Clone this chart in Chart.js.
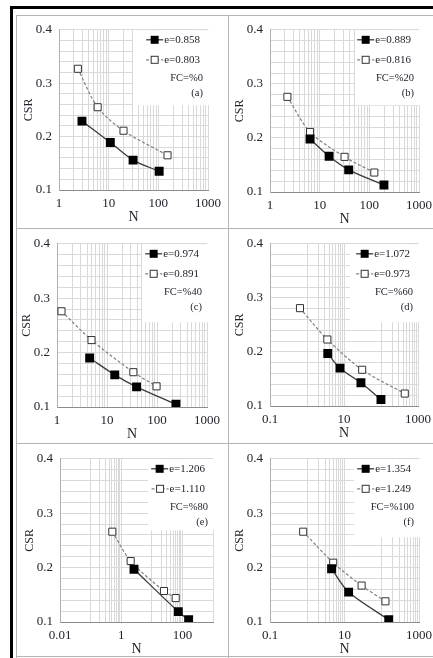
<!DOCTYPE html>
<html>
<head>
<meta charset="UTF-8">
<title>CSR - N</title>
<style>
body { margin: 0; background: #fff; }
#page { position: relative; width: 433px; height: 658px; overflow: hidden; background: #fff; }
.rule { position: absolute; }
#page canvas { position: absolute; }
</style>
</head>
<body>
<div id="page">
	<!-- frame -->
	<div class="rule" style="left:10px;top:6px;width:423px;height:3px;background:#000"></div>
	<div class="rule" style="left:10px;top:6px;width:3px;height:652px;background:#000"></div>
	<div class="rule" style="left:16px;top:15px;width:1px;height:643px;background:#b4b4b4"></div>
	<div class="rule" style="left:228px;top:15px;width:1px;height:643px;background:#b4b4b4"></div>
	<div class="rule" style="left:16px;top:15px;width:417px;height:1px;background:#b4b4b4"></div>
	<div class="rule" style="left:16px;top:228px;width:417px;height:1px;background:#b4b4b4"></div>
	<div class="rule" style="left:16px;top:443px;width:417px;height:1px;background:#b4b4b4"></div>
	<div class="rule" style="left:16px;top:656px;width:417px;height:1px;background:#b4b4b4"></div>
</div>
<script src="https://cdn.jsdelivr.net/npm/chart.js"></script>
<script type="text/javascript">
// ---- data ----
// (a) FC=%0
const nA1 = [2.9, 10.8, 31, 104];
const csrA1 = [0.229, 0.189, 0.156, 0.135];
const nA2 = [2.4, 6.0, 19.9, 153];
const csrA2 = [0.327, 0.255, 0.211, 0.165];
// (b) FC=%20
const nB1 = [6.4, 15.5, 38.4, 197];
const csrB1 = [0.198, 0.166, 0.141, 0.113];
const nB2 = [2.24, 6.4, 31.7, 126];
const csrB2 = [0.276, 0.211, 0.165, 0.136];
// (c) FC=%40
const nC1 = [4.5, 14.3, 39, 239];
const csrC1 = [0.190, 0.159, 0.137, 0.105];
const nC2 = [1.23, 4.9, 33.7, 98];
const csrC2 = [0.276, 0.223, 0.164, 0.138];
// (d) FC=%60
const nD1 = [3.64, 7.8, 28.7, 99.8];
const csrD1 = [0.197, 0.170, 0.143, 0.112];
const nD2 = [0.646, 3.55, 31, 439];
const csrD2 = [0.281, 0.223, 0.167, 0.123];
// (e) FC=%80
const nE1 = [2.62, 73.5, 160];
const csrE1 = [0.197, 0.119, 0.104];
const nE2 = [0.512, 2.04, 25, 60.3];
const csrE2 = [0.266, 0.212, 0.157, 0.144];
// (f) FC=%100
const nF1 = [4.5, 12.9, 154];
const csrF1 = [0.198, 0.155, 0.104];
const nF2 = [0.778, 4.97, 28.8, 125.6];
const csrF2 = [0.266, 0.209, 0.167, 0.138];

const seriesA = ['e=0.858', 'e=0.803'];
const seriesB = ['e=0.889', 'e=0.816'];
const seriesC = ['e=0.974', 'e=0.891'];
const seriesD = ['e=1.072', 'e=0.973'];
const seriesE = ['e=1.206', 'e=1.110'];
const seriesF = ['e=1.354', 'e=1.249'];
const fcLabels = ['FC=%0', 'FC=%20', 'FC=%40', 'FC=%60', 'FC=%80', 'FC=%100'];
const panelTags = ['(a)', '(b)', '(c)', '(d)', '(e)', '(f)'];

// labelled ticks on the N axis
const xTicksDec = [1, 10, 100, 1000];
const xLabelsDec = ['1', '10', '100', '1000'];
const xTicksWide = [0.1, 10, 1000];
const xLabelsWide = ['0.1', '10', '1000'];
const xTicksE = [0.01, 1, 100];
const xLabelsE = ['0.01', '1', '100'];
// CSR axis: labelled ticks, minor gridline step
const yTicks = [0.1, 0.2, 0.3, 0.4];
const yLabels = ['0.1', '0.2', '0.3', '0.4'];
const yMinor = 0.02;

// ---- layout ----
// area = plot box on the page [left, top, right, bottom], box = legend backdrop [w, h]
const panels = [
	{area: [59, 25, 213, 190], box: [75, 75], n: [nA1, nA2], csr: [csrA1, csrA2], names: seriesA, xt: xTicksDec, xl: xLabelsDec, step: 10, min: 1, max: 1000},
	{area: [270, 25, 424, 192], box: [64, 75], n: [nB1, nB2], csr: [csrB1, csrB2], names: seriesB, xt: xTicksDec, xl: xLabelsDec, step: 10, min: 1, max: 1000},
	{area: [57, 239, 212, 407], box: [65, 78], n: [nC1, nC2], csr: [csrC1, csrC2], names: seriesC, xt: xTicksDec, xl: xLabelsDec, step: 10, min: 1, max: 1000},
	{area: [270, 239, 423, 406], box: [68, 78], n: [nD1, nD2], csr: [csrD1, csrD2], names: seriesD, xt: xTicksWide, xl: xLabelsWide, step: 100, min: 0.1, max: 1000},
	{area: [60, 454, 213, 622], box: [65, 71], n: [nE1, nE2], csr: [csrE1, csrE2], names: seriesE, xt: xTicksE, xl: xLabelsE, step: 100, min: 0.01, max: 1000},
	{area: [270, 454, 424, 622], box: [65, 78], n: [nF1, nF2], csr: [csrF1, csrF2], names: seriesF, xt: xTicksWide, xl: xLabelsWide, step: 100, min: 0.1, max: 1000}
];

const SERIF = '"Liberation Serif", "Times New Roman", serif';
const TEXT = '#23232e';
const GRID = '#d9d9d9';
const Y_W = 46, X_H = 36, PAD_T = 10, PAD_R = 14;

// gridline positions for a log axis: majors plus the minor lines between them
function logGrid(majors, step, max) {
	let vals = [];
	majors.forEach(function(m) {
		vals.push(m);
		if (step === 10) {
			for (let k = 2; k <= 9; k++) vals.push(+(m * k).toPrecision(6));
		} else {
			for (let k = 1; k <= 9; k++) vals.push(+(m * 10 * k).toPrecision(6));
		}
	});
	return vals.filter(v => v <= max * 1.000001);
}

// gridline positions for the CSR axis
function linGrid(lo, hi, step) {
	let vals = [];
	const n = Math.round((hi - lo) / step);
	for (let k = 0; k <= n; k++) vals.push(+(lo + k * step).toFixed(4));
	return vals;
}
const yGrid = linGrid(yTicks[0], yTicks[yTicks.length - 1], yMinor);

// white legend backdrop, legend entries, FC label and panel tag
const legendBox = {
	id: 'legendBox',
	beforeDatasetsDraw(chart, args, opts) {
		const ctx = chart.ctx, a = chart.chartArea;
		ctx.save();
		ctx.fillStyle = '#fff';
		ctx.fillRect(a.right - opts.w, a.top + 0.5, opts.w + 1, opts.h);
		ctx.restore();
	},
	afterDatasetsDraw(chart, args, opts) {
		const ctx = chart.ctx, a = chart.chartArea;
		ctx.save();
		ctx.textBaseline = 'middle';
		ctx.font = '11px ' + SERIF;
		chart.data.datasets.forEach(function(ds, i) {
			const y = a.top + 10 + i * 20;
			const tw = ctx.measureText(ds.label).width;
			const tx = a.right - 8 - tw;
			ctx.fillStyle = TEXT;
			ctx.textAlign = 'left';
			ctx.fillText(ds.label, tx, y);
			ctx.strokeStyle = ds.borderColor;
			ctx.lineWidth = ds.borderWidth;
			ctx.setLineDash(ds.borderDash || []);
			ctx.beginPath();
			ctx.moveTo(tx - 18, y);
			ctx.lineTo(tx - 1, y);
			ctx.stroke();
			ctx.setLineDash([]);
			const s = i === 0 ? 8 : 7;
			const cx = tx - 9.5;
			ctx.fillStyle = ds.pointBackgroundColor;
			ctx.fillRect(cx - s / 2, y - s / 2, s, s);
			if (i === 1) {
				ctx.strokeStyle = ds.pointBorderColor;
				ctx.lineWidth = 1;
				ctx.strokeRect(cx - s / 2, y - s / 2, s, s);
			}
		});
		ctx.textAlign = 'right';
		ctx.fillStyle = TEXT;
		ctx.font = '10.5px ' + SERIF;
		ctx.fillText(opts.fc, a.right - 5, a.top + 48);
		ctx.fillText(opts.tag, a.right - 5, a.top + 63);
		ctx.restore();
	}
};

const page = document.getElementById('page');

panels.forEach(function(p, idx) {
	const [l, t, r, b] = p.area;
	const cv = document.createElement('canvas');
	const w = r - l + Y_W + PAD_R;
	const h = b - t + PAD_T + X_H;
	cv.width = w;
	cv.height = h;
	cv.style.left = (l - Y_W) + 'px';
	cv.style.top = (t - PAD_T) + 'px';
	page.appendChild(cv);

	const grid = logGrid(p.xt, p.step, p.max);
	const pts = k => p.n[k].map((v, i) => ({x: v, y: p.csr[k][i]}));

	new Chart(cv, {
		type: 'line',
		data: {
			datasets: [{
				label: p.names[0],
				data: pts(0),
				borderColor: '#3c3c3c',
				borderWidth: 1.3,
				tension: 0.3,
				pointStyle: 'rect',
				pointRadius: 6.3,
				pointBackgroundColor: '#000',
				pointBorderColor: '#000',
				pointBorderWidth: 0
			}, {
				label: p.names[1],
				data: pts(1),
				borderColor: '#808080',
				borderWidth: 1.2,
				borderDash: [3, 2],
				tension: 0.3,
				pointStyle: 'rect',
				pointRadius: 5,
				pointBackgroundColor: '#fff',
				pointBorderColor: '#333',
				pointBorderWidth: 1
			}]
		},
		options: {
			responsive: false,
			animation: false,
			devicePixelRatio: 1,
			layout: {autoPadding: false, padding: {left: 0, top: PAD_T, right: PAD_R, bottom: 0}},
			plugins: {
				legend: {display: false},
				tooltip: {enabled: false},
				legendBox: {w: p.box[0], h: p.box[1], fc: fcLabels[idx], tag: panelTags[idx]}
			},
			scales: {
				x: {
					type: 'logarithmic',
					min: p.min,
					max: p.max,
					afterFit: s => { s.height = X_H; },
					afterBuildTicks: s => { s.ticks = grid.map(v => ({value: v})); },
					grid: {color: GRID, lineWidth: 1, drawTicks: false},
					border: {color: '#8c8c8c', width: 1},
					ticks: {
						autoSkip: false,
						maxRotation: 0,
						padding: 6,
						color: TEXT,
						font: {family: SERIF, size: 13},
						callback: function(v) {
							const i = p.xt.indexOf(v);
							return i >= 0 ? p.xl[i] : '';
						}
					},
					title: {display: true, text: 'N', color: TEXT, font: {family: SERIF, size: 14}, padding: {top: 9, bottom: 0}}
				},
				y: {
					type: 'linear',
					min: yTicks[0],
					max: yTicks[yTicks.length - 1],
					afterFit: s => { s.width = Y_W; },
					afterBuildTicks: s => { s.ticks = yGrid.map(v => ({value: v})); },
					grid: {color: GRID, lineWidth: 1, drawTicks: false},
					border: {color: '#b0b0b0', width: 1},
					ticks: {
						autoSkip: false,
						padding: 7,
						color: TEXT,
						font: {family: SERIF, size: 13},
						callback: function(v) {
							const i = yTicks.findIndex(q => Math.abs(q - v) < 1e-6);
							return i >= 0 ? yLabels[i] : '';
						}
					},
					title: {display: true, text: 'CSR', color: TEXT, font: {family: SERIF, size: 12}, padding: {top: 9, bottom: 0}}
				}
			}
		},
		plugins: [legendBox]
	});
});
</script>
</body>
</html>
